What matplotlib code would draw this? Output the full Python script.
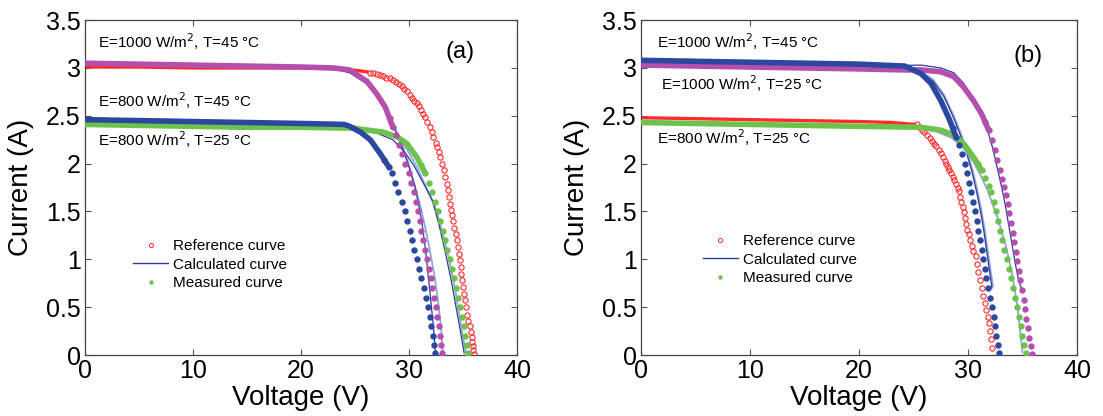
import matplotlib
matplotlib.use("Agg")
import matplotlib.pyplot as plt
from matplotlib.lines import Line2D

plt.rcParams['font.family'] = ['Liberation Sans', 'DejaVu Sans']

# ---------------- panel (a) ----------------
# measured, E=1000 W/m2, T=45 C (magenta)
a_mag_band_v = [0, 5, 10, 15, 20, 23, 24.5, 26.1, 27.0, 27.8, 28.5]
a_mag_band_i = [3.05, 3.04, 3.03, 3.02, 3.01, 3.0, 2.98, 2.86, 2.73, 2.59, 2.38]
a_mag_pts_v = [28.2, 28.5, 28.75, 29.05, 29.35, 29.65, 29.95, 30.2, 30.45, 30.6, 30.8, 31.0, 31.15, 31.3,
               31.5, 31.65, 31.85, 32.0, 32.15, 32.3, 32.45, 32.6, 32.75, 32.85, 32.95, 33.05]
a_mag_pts_i = [2.48, 2.38, 2.30, 2.20, 2.10, 2.00, 1.90, 1.80, 1.70, 1.60, 1.50, 1.40, 1.30, 1.20,
               1.10, 1.00, 0.90, 0.80, 0.70, 0.60, 0.50, 0.40, 0.30, 0.20, 0.10, 0.02]
# measured, E=800 W/m2, T=45 C (blue)
a_blu_band_v = [0, 5, 10, 15, 20, 24, 24.5, 25.5, 26.4, 27.3, 28.1]
a_blu_band_i = [2.46, 2.45, 2.44, 2.43, 2.42, 2.41, 2.39, 2.33, 2.25, 2.11, 1.97]
a_blu_pts_v = [27.7, 28.1, 28.4, 28.7, 29.0, 29.3, 29.6, 29.85, 30.1, 30.3, 30.5, 30.75, 30.95, 31.15,
               31.35, 31.55, 31.75, 31.9, 32.05, 32.2, 32.3, 32.4]
a_blu_pts_i = [2.04, 1.97, 1.90, 1.80, 1.70, 1.60, 1.50, 1.40, 1.30, 1.20, 1.10, 1.00, 0.90, 0.80,
               0.70, 0.60, 0.50, 0.40, 0.30, 0.20, 0.10, 0.02]
# measured, E=800 W/m2, T=25 C (green)
a_grn_band_v = [0, 5, 10, 15, 20, 25, 25.5, 27.6, 28.9, 29.8, 30.7, 31.5]
a_grn_band_i = [2.41, 2.40, 2.39, 2.38, 2.38, 2.37, 2.36, 2.33, 2.28, 2.21, 2.07, 1.90]
a_grn_pts_v = [31.1, 31.5, 31.8, 32.1, 32.4, 32.65, 32.9, 33.1, 33.35, 33.55, 33.75, 33.95, 34.15, 34.35,
               34.55, 34.7, 34.9, 35.05, 35.2, 35.35, 35.5]
a_grn_pts_i = [1.99, 1.90, 1.80, 1.70, 1.60, 1.50, 1.40, 1.30, 1.20, 1.10, 1.00, 0.90, 0.80, 0.70,
               0.60, 0.50, 0.40, 0.30, 0.20, 0.10, 0.02]
# reference curve (red circles)
a_ref_band_v = [0, 5, 10, 15, 20, 24, 26.1]
a_ref_band_i = [3.01, 3.01, 3.0, 3.0, 3.0, 2.99, 2.96]
a_ref_pts_v = [26.4, 26.7, 27.0, 27.3, 27.6, 27.9, 28.2, 28.5, 28.8, 29.05, 29.3, 29.55, 29.8,
               30.05, 30.3, 30.5, 30.7, 30.9, 31.1, 31.3, 31.5, 31.7, 31.9, 32.1, 32.25, 32.45,
               32.6, 32.75, 32.9, 33.05, 33.2, 33.35, 33.5, 33.6, 33.7, 33.8, 33.9, 34.0, 34.1,
               34.2, 34.3, 34.4, 34.5, 34.6, 34.7, 34.78, 34.85, 34.93, 35.0, 35.1, 35.2, 35.3,
               35.4, 35.5, 35.6, 35.7, 35.8, 35.85, 35.9, 35.95, 36.0]
a_ref_pts_i = [2.95, 2.95, 2.94, 2.93, 2.92, 2.90, 2.89, 2.87, 2.85, 2.83, 2.81, 2.78, 2.76,
               2.72, 2.69, 2.66, 2.63, 2.60, 2.56, 2.52, 2.49, 2.44, 2.38, 2.33, 2.28, 2.22,
               2.17, 2.12, 2.07, 2.0, 1.93, 1.86, 1.79, 1.72, 1.65, 1.58, 1.52, 1.46, 1.40,
               1.33, 1.27, 1.20, 1.13, 1.06, 0.99, 0.92, 0.85, 0.78, 0.71, 0.64, 0.57, 0.50,
               0.42, 0.36, 0.30, 0.24, 0.19, 0.14, 0.09, 0.05, 0.01]
# calculated curves
a_calc1_v = [0, 10, 20, 23, 24.5, 26, 27.2, 28.2, 29.1, 29.9, 30.5, 31.0, 31.5, 31.95, 32.35, 32.7, 32.95, 33.1]
a_calc1_i = [3.06, 3.04, 3.02, 3.0, 2.96, 2.86, 2.70, 2.50, 2.27, 2.02, 1.78, 1.58, 1.33, 1.08, 0.83, 0.55, 0.3, 0.05]
a_calc2_v = [0, 20, 23, 24.5, 26, 27.2, 28.2, 29.1, 29.9, 30.5, 30.8, 31.2, 31.5, 31.75, 32.0, 32.25, 32.45]
a_calc2_i = [3.05, 3.01, 2.99, 2.95, 2.84, 2.68, 2.48, 2.25, 2.0, 1.78, 1.62, 1.38, 1.12, 0.85, 0.58, 0.3, 0.02]
a_calc3_v = [0, 10, 20, 25, 27, 28.5, 29.6, 30.5, 31.4, 32.15, 32.8, 33.4, 33.9, 34.35, 34.75, 35.1]
a_calc3_i = [2.42, 2.40, 2.38, 2.36, 2.32, 2.25, 2.12, 1.97, 1.78, 1.62, 1.35, 1.05, 0.78, 0.5, 0.25, 0.02]
a_calc4_v = [0, 10, 20, 25, 27, 28.8, 29.8, 30.8, 31.6, 32.5, 33.1, 33.7, 34.2, 34.65, 35.0, 35.25]
a_calc4_i = [2.42, 2.40, 2.38, 2.36, 2.33, 2.28, 2.15, 1.95, 1.75, 1.52, 1.28, 1.0, 0.72, 0.42, 0.18, 0.03]

# ---------------- panel (b) ----------------
# measured, E=1000 W/m2, T=45 C (blue)
b_blu_band_v = [0, 5, 10, 15, 20, 24.2, 25.7, 26.6, 27.5, 28.3, 28.9]
b_blu_band_i = [3.08, 3.07, 3.06, 3.05, 3.04, 3.02, 2.94, 2.84, 2.66, 2.46, 2.28]
b_blu_pts_v = [28.6, 28.9, 29.2, 29.45, 29.7, 29.9, 30.1, 30.3, 30.5, 30.65, 30.8, 30.95, 31.1, 31.25,
               31.4, 31.55, 31.7, 31.85, 32.0, 32.2, 32.35, 32.5, 32.6, 32.75, 32.85]
b_blu_pts_i = [2.37, 2.28, 2.20, 2.10, 2.00, 1.90, 1.80, 1.70, 1.60, 1.50, 1.40, 1.30, 1.20, 1.10,
               1.00, 0.90, 0.80, 0.70, 0.60, 0.50, 0.40, 0.30, 0.20, 0.10, 0.02]
# measured, E=1000 W/m2, T=25 C (magenta)
b_mag_band_v = [0, 5, 10, 15, 20, 24, 25.7, 27.5, 28.7, 29.6, 30.5, 31.25, 31.9]
b_mag_band_i = [3.03, 3.02, 3.01, 3.0, 2.99, 2.98, 2.98, 2.96, 2.91, 2.80, 2.66, 2.52, 2.35]
b_mag_pts_v = [31.6, 31.9, 32.2, 32.5, 32.7, 32.9, 33.1, 33.3, 33.5, 33.65, 33.8, 33.95, 34.1, 34.25,
               34.4, 34.5, 34.65, 34.8, 34.95, 35.1, 35.2, 35.35, 35.5, 35.6, 35.75, 35.9]
b_mag_pts_i = [2.44, 2.35, 2.25, 2.14, 2.04, 1.93, 1.84, 1.76, 1.67, 1.58, 1.48, 1.38, 1.28, 1.18,
               1.08, 0.98, 0.88, 0.78, 0.68, 0.58, 0.48, 0.38, 0.28, 0.18, 0.09, 0.01]
# measured, E=800 W/m2, T=25 C (green)
b_grn_band_v = [0, 5, 10, 15, 20, 25.7, 27.5, 28.7, 29.6, 30.5, 31.25]
b_grn_band_i = [2.43, 2.42, 2.41, 2.40, 2.39, 2.38, 2.35, 2.30, 2.21, 2.07, 1.93]
b_grn_pts_v = [30.9, 31.25, 31.6, 31.9, 32.15, 32.35, 32.55, 32.75, 32.95, 33.15, 33.35, 33.55, 33.75, 33.95,
               34.15, 34.35, 34.5, 34.7, 34.85, 35.0, 35.15, 35.35]
b_grn_pts_i = [2.0, 1.93, 1.85, 1.77, 1.70, 1.60, 1.50, 1.40, 1.30, 1.20, 1.10, 1.00, 0.90, 0.80,
               0.70, 0.60, 0.50, 0.40, 0.30, 0.20, 0.10, 0.02]
# reference curve (red circles)
b_ref_band_v = [0, 5, 10, 15, 20, 23, 25.1]
b_ref_band_i = [2.48, 2.47, 2.46, 2.45, 2.44, 2.43, 2.41]
b_ref_pts_v = [25.3, 25.55, 25.8, 26.0, 26.25, 26.5, 26.7, 26.9, 27.1, 27.3, 27.5, 27.7, 27.85,
               28.0, 28.15, 28.3, 28.45, 28.6, 28.75, 28.9, 29.05, 29.2, 29.3, 29.4, 29.5, 29.6,
               29.7, 29.8, 29.95, 30.05, 30.2, 30.35, 30.5, 30.7, 30.8, 30.95, 31.1, 31.25, 31.4,
               31.6, 31.7, 31.8, 31.9, 32.0, 32.1, 32.25]
b_ref_pts_i = [2.41, 2.38, 2.35, 2.33, 2.30, 2.27, 2.24, 2.21, 2.18, 2.14, 2.11, 2.07, 2.03,
               2.0, 1.96, 1.93, 1.90, 1.86, 1.83, 1.79, 1.75, 1.71, 1.65, 1.60, 1.55, 1.49,
               1.43, 1.37, 1.31, 1.26, 1.20, 1.14, 1.09, 1.03, 0.95, 0.87, 0.78, 0.70, 0.62,
               0.54, 0.47, 0.40, 0.33, 0.25, 0.17, 0.07]
# calculated curves
b_calc1_v = [0, 20, 24, 25.5, 26.8, 27.8, 28.6, 29.3, 29.9, 30.4, 30.8, 31.15, 31.45, 31.7, 31.95, 32.2]
b_calc1_i = [3.08, 3.04, 3.02, 2.97, 2.86, 2.7, 2.5, 2.3, 2.1, 1.9, 1.7, 1.5, 1.3, 1.1, 0.9, 0.7]
b_calc2_v = [0, 20, 24, 25.5, 26.8, 27.8, 28.7, 29.4, 30.0, 30.5, 30.9, 31.25, 31.55, 31.8, 32.05, 32.3]
b_calc2_i = [3.08, 3.04, 3.02, 2.98, 2.88, 2.72, 2.5, 2.3, 2.1, 1.9, 1.7, 1.5, 1.3, 1.1, 0.9, 0.72]
b_calc3_v = [0, 20, 25.7, 27.5, 28.7, 29.6, 30.5, 31.2, 31.8, 32.3, 32.7, 33.1, 33.45, 33.75, 34.05, 34.35, 34.65, 34.95]
b_calc3_i = [3.04, 3.02, 3.03, 3.0, 2.95, 2.84, 2.68, 2.52, 2.35, 2.15, 1.95, 1.75, 1.55, 1.35, 1.15, 0.95, 0.78, 0.68]
b_calc4_v = [0, 20, 25, 27, 28.5, 29.6, 30.5, 31.2, 31.8, 32.7, 33.5, 34.1, 34.55, 34.85, 35.0]
b_calc4_i = [2.44, 2.40, 2.38, 2.34, 2.27, 2.16, 2.02, 1.87, 1.72, 1.44, 1.13, 0.82, 0.50, 0.19, 0.03]

xticks = [0, 10, 20, 30, 40]
yticks = [0, 0.5, 1, 1.5, 2, 2.5, 3, 3.5]
ytick_labels = ['0', '0.5', '1', '1.5', '2', '2.5', '3', '3.5']

RED = '#ff2b2b'
MAG = '#b54fae'
BLU = '#2b47a0'
GRN = '#6cc24a'
CALC_DARK = '#2a3c9c'
CALC_LIGHT = '#8fa6d9'


def measured(ax, bv, bi, pv, pi, color):
    ax.plot(bv, bi, color=color, lw=4.0, solid_capstyle='round', zorder=3)
    ax.plot(pv, pi, ls='none', marker='o', ms=4.6, mew=0, color=color, zorder=3)


def reference(ax, bv, bi, pv, pi):
    ax.plot(bv, bi, color=RED, lw=2.4, zorder=2)
    ax.plot(pv, pi, ls='none', marker='o', ms=3.8, mew=0.8, mfc='none', mec=RED, zorder=2)


def style(ax):
    ax.set_xlim(0, 40)
    ax.set_ylim(0, 3.5)
    ax.set_xticks(xticks)
    ax.set_yticks(yticks)
    ax.set_yticklabels(ytick_labels)
    ax.tick_params(direction='in', top=True, right=True, length=4, width=0.8,
                   labelsize=18, pad=3, color='#555555')
    for s in ax.spines.values():
        s.set_color('#444444')
        s.set_linewidth(0.9)
    ax.set_xlabel('Voltage (V)', fontsize=20, labelpad=1)
    ax.set_ylabel('Current (A)', fontsize=20, labelpad=9)


def legend(ax, anchor):
    handles = [
        Line2D([], [], ls='none', marker='o', ms=3, mew=0.7, mfc='none', mec=RED),
        Line2D([], [], color=CALC_DARK, lw=1),
        Line2D([], [], ls='none', marker='o', ms=3.2, mew=0, color=GRN),
    ]
    labels = ['Reference curve', 'Calculated curve', 'Measured curve']
    ax.legend(handles, labels, loc='upper left', bbox_to_anchor=anchor, frameon=False,
              fontsize=11, handlelength=2.3, handletextpad=0.3, labelspacing=0.3,
              borderpad=0, borderaxespad=0)


fig = plt.figure(figsize=(11.03, 4.16), dpi=100)
ax1 = fig.add_axes([0.0771, 0.1466, 0.3917, 0.805])
ax2 = fig.add_axes([0.5811, 0.1466, 0.3953, 0.805])

# panel (a)
ax1.plot(a_calc1_v, a_calc1_i, color=CALC_LIGHT, lw=1.3, zorder=2.5)
ax1.plot(a_calc2_v, a_calc2_i, color=CALC_DARK, lw=0.9, zorder=2.5)
ax1.plot(a_calc4_v, a_calc4_i, color=CALC_LIGHT, lw=1.3, zorder=2.5)
ax1.plot(a_calc3_v, a_calc3_i, color=CALC_DARK, lw=0.9, zorder=2.5)
reference(ax1, a_ref_band_v, a_ref_band_i, a_ref_pts_v, a_ref_pts_i)
measured(ax1, a_grn_band_v, a_grn_band_i, a_grn_pts_v, a_grn_pts_i, GRN)
measured(ax1, a_mag_band_v, a_mag_band_i, a_mag_pts_v, a_mag_pts_i, MAG)
measured(ax1, a_blu_band_v, a_blu_band_i, a_blu_pts_v, a_blu_pts_i, BLU)
style(ax1)
ax1.text(1.2, 3.27, 'E=1000 W/m$^2$, T=45 °C', fontsize=11, va='center', ha='left')
ax1.text(1.2, 2.66, 'E=800 W/m$^2$, T=45 °C', fontsize=11, va='center', ha='left')
ax1.text(1.2, 2.25, 'E=800 W/m$^2$, T=25 °C', fontsize=11, va='center', ha='left')
ax1.text(34.7, 3.17, '(a)', fontsize=17, va='center', ha='center')
legend(ax1, (0.111, 0.346))

# panel (b)
ax2.plot(b_calc2_v, b_calc2_i, color=CALC_LIGHT, lw=1.3, zorder=2.5)
ax2.plot(b_calc1_v, b_calc1_i, color=CALC_DARK, lw=0.9, zorder=2.5)
ax2.plot(b_calc3_v, b_calc3_i, color=CALC_DARK, lw=0.9, zorder=2.5)
ax2.plot(b_calc4_v, b_calc4_i, color=CALC_LIGHT, lw=1.3, zorder=2.5)
reference(ax2, b_ref_band_v, b_ref_band_i, b_ref_pts_v, b_ref_pts_i)
measured(ax2, b_grn_band_v, b_grn_band_i, b_grn_pts_v, b_grn_pts_i, GRN)
measured(ax2, b_mag_band_v, b_mag_band_i, b_mag_pts_v, b_mag_pts_i, MAG)
measured(ax2, b_blu_band_v, b_blu_band_i, b_blu_pts_v, b_blu_pts_i, BLU)
style(ax2)
ax2.text(1.5, 3.27, 'E=1000 W/m$^2$, T=45 °C', fontsize=11, va='center', ha='left')
ax2.text(1.8, 2.84, 'E=1000 W/m$^2$, T=25 °C', fontsize=11, va='center', ha='left')
ax2.text(1.5, 2.27, 'E=800 W/m$^2$, T=25 °C', fontsize=11, va='center', ha='left')
ax2.text(35.5, 3.12, '(b)', fontsize=17, va='center', ha='center')
legend(ax2, (0.142, 0.361))

fig.savefig('out.png', dpi=100)
